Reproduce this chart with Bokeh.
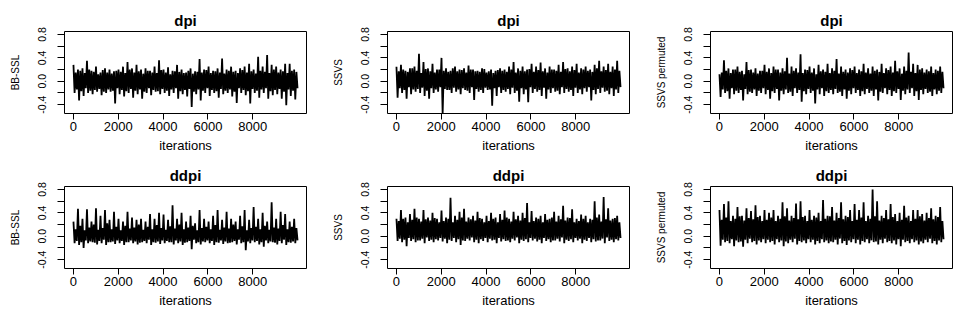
import numpy as np
from bokeh.plotting import figure
from bokeh.layouts import column, row
from bokeh.models import FixedTicker, Range1d
from bokeh.embed import file_html
from bokeh.resources import INLINE

# ---------------- data ----------------
titles = ["dpi", "dpi", "dpi", "ddpi", "ddpi", "ddpi"]
ylabels = ["BB-SSL", "SSVS", "SSVS permuted", "BB-SSL", "SSVS", "SSVS permuted"]
xlabel = "iterations"
x_ticks = [0, 2000, 4000, 6000, 8000]
y_ticks = [-0.4, -0.2, 0.0, 0.2, 0.4, 0.6, 0.8]
y_tick_text = ["-0.4", "", "0.0", "", "0.4", "", "0.8"]
n_iter = 10000

# high / low extremes of each trace, one pair per stretch of 100 iterations
dpi_bbssl_hi = [0.28, 0.15, 0.20, 0.18, 0.22, 0.14, 0.35, 0.20, 0.18, 0.16,
                0.25, 0.12, 0.15, 0.19, 0.22, 0.15, 0.20, 0.13, 0.17, 0.18,
                0.20, 0.16, 0.25, 0.14, 0.33, 0.20, 0.22, 0.15, 0.28, 0.17,
                0.20, 0.13, 0.22, 0.18, 0.18, 0.15, 0.25, 0.14, 0.36, 0.19,
                0.20, 0.15, 0.24, 0.12, 0.18, 0.17, 0.28, 0.16, 0.20, 0.14,
                0.15, 0.18, 0.22, 0.13, 0.17, 0.16, 0.38, 0.15, 0.20, 0.19,
                0.25, 0.14, 0.18, 0.17, 0.22, 0.15, 0.39, 0.13, 0.20, 0.18,
                0.25, 0.16, 0.18, 0.14, 0.22, 0.19, 0.25, 0.15, 0.30, 0.17,
                0.20, 0.13, 0.42, 0.18, 0.25, 0.16, 0.45, 0.14, 0.28, 0.20,
                0.25, 0.15, 0.20, 0.17, 0.30, 0.14, 0.30, 0.18, 0.20, 0.16]
dpi_bbssl_lo = [-0.20, -0.14, -0.33, -0.17, -0.25, -0.12, -0.20, -0.16, -0.22, -0.15,
                -0.18, -0.13, -0.24, -0.18, -0.20, -0.14, -0.18, -0.16, -0.38, -0.12,
                -0.22, -0.15, -0.26, -0.17, -0.20, -0.13, -0.28, -0.16, -0.22, -0.14,
                -0.30, -0.18, -0.20, -0.12, -0.24, -0.15, -0.18, -0.17, -0.22, -0.13,
                -0.20, -0.16, -0.25, -0.14, -0.20, -0.12, -0.30, -0.17, -0.22, -0.15,
                -0.26, -0.13, -0.44, -0.18, -0.22, -0.14, -0.33, -0.16, -0.20, -0.12,
                -0.25, -0.15, -0.20, -0.17, -0.28, -0.13, -0.22, -0.16, -0.20, -0.14,
                -0.26, -0.18, -0.37, -0.12, -0.20, -0.15, -0.24, -0.17, -0.38, -0.13,
                -0.20, -0.16, -0.28, -0.14, -0.20, -0.12, -0.30, -0.17, -0.24, -0.15,
                -0.22, -0.13, -0.30, -0.18, -0.41, -0.14, -0.25, -0.16, -0.31, -0.12]

dpi_ssvs_hi = [0.25, 0.17, 0.28, 0.20, 0.18, 0.16, 0.22, 0.22, 0.25, 0.18,
               0.47, 0.14, 0.33, 0.21, 0.22, 0.17, 0.30, 0.15, 0.20, 0.20,
               0.40, 0.18, 0.22, 0.16, 0.18, 0.22, 0.25, 0.17, 0.20, 0.19,
               0.22, 0.15, 0.27, 0.20, 0.20, 0.17, 0.18, 0.16, 0.22, 0.21,
               0.15, 0.17, 0.20, 0.14, 0.18, 0.19, 0.22, 0.18, 0.20, 0.16,
               0.25, 0.20, 0.33, 0.15, 0.22, 0.18, 0.25, 0.17, 0.20, 0.21,
               0.30, 0.16, 0.25, 0.19, 0.32, 0.17, 0.22, 0.15, 0.25, 0.20,
               0.20, 0.18, 0.28, 0.16, 0.33, 0.21, 0.22, 0.17, 0.25, 0.19,
               0.30, 0.15, 0.22, 0.20, 0.25, 0.18, 0.20, 0.16, 0.28, 0.22,
               0.35, 0.17, 0.25, 0.19, 0.30, 0.16, 0.25, 0.20, 0.35, 0.18]
dpi_ssvs_lo = [-0.28, -0.12, -0.20, -0.15, -0.30, -0.10, -0.22, -0.14, -0.18, -0.13,
               -0.20, -0.11, -0.25, -0.16, -0.30, -0.12, -0.20, -0.14, -0.18, -0.10,
               -0.56, -0.13, -0.15, -0.15, -0.20, -0.11, -0.18, -0.14, -0.22, -0.12,
               -0.15, -0.16, -0.20, -0.10, -0.32, -0.13, -0.18, -0.15, -0.20, -0.11,
               -0.15, -0.14, -0.42, -0.12, -0.25, -0.10, -0.20, -0.15, -0.18, -0.13,
               -0.22, -0.11, -0.20, -0.16, -0.35, -0.12, -0.22, -0.14, -0.36, -0.10,
               -0.20, -0.13, -0.18, -0.15, -0.25, -0.11, -0.30, -0.14, -0.20, -0.12,
               -0.18, -0.16, -0.22, -0.10, -0.20, -0.13, -0.18, -0.15, -0.25, -0.11,
               -0.20, -0.14, -0.22, -0.12, -0.18, -0.10, -0.33, -0.15, -0.22, -0.13,
               -0.20, -0.11, -0.18, -0.16, -0.22, -0.12, -0.25, -0.14, -0.20, -0.10]

dpi_perm_hi = [0.12, 0.15, 0.36, 0.18, 0.22, 0.14, 0.20, 0.20, 0.25, 0.16,
               0.18, 0.12, 0.33, 0.19, 0.20, 0.15, 0.22, 0.13, 0.18, 0.18,
               0.28, 0.16, 0.22, 0.14, 0.25, 0.20, 0.20, 0.15, 0.22, 0.17,
               0.40, 0.13, 0.25, 0.18, 0.22, 0.15, 0.46, 0.14, 0.20, 0.19,
               0.25, 0.15, 0.22, 0.12, 0.28, 0.17, 0.20, 0.16, 0.30, 0.14,
               0.22, 0.18, 0.38, 0.13, 0.25, 0.16, 0.20, 0.15, 0.22, 0.19,
               0.25, 0.14, 0.20, 0.17, 0.30, 0.15, 0.22, 0.13, 0.25, 0.18,
               0.20, 0.16, 0.30, 0.14, 0.22, 0.19, 0.25, 0.15, 0.35, 0.17,
               0.22, 0.13, 0.25, 0.18, 0.49, 0.16, 0.30, 0.14, 0.28, 0.20,
               0.22, 0.15, 0.20, 0.17, 0.25, 0.14, 0.20, 0.18, 0.25, 0.16]
dpi_perm_lo = [-0.27, -0.14, -0.20, -0.17, -0.30, -0.12, -0.22, -0.16, -0.20, -0.15,
               -0.33, -0.13, -0.22, -0.18, -0.20, -0.14, -0.25, -0.16, -0.20, -0.12,
               -0.22, -0.15, -0.30, -0.17, -0.20, -0.13, -0.33, -0.16, -0.22, -0.14,
               -0.20, -0.18, -0.25, -0.12, -0.20, -0.15, -0.35, -0.17, -0.22, -0.13,
               -0.20, -0.16, -0.38, -0.14, -0.22, -0.12, -0.25, -0.17, -0.20, -0.15,
               -0.22, -0.13, -0.20, -0.18, -0.25, -0.14, -0.30, -0.16, -0.22, -0.12,
               -0.20, -0.15, -0.25, -0.17, -0.22, -0.13, -0.20, -0.16, -0.25, -0.14,
               -0.33, -0.18, -0.20, -0.12, -0.22, -0.15, -0.25, -0.17, -0.20, -0.13,
               -0.32, -0.16, -0.22, -0.14, -0.20, -0.12, -0.25, -0.17, -0.32, -0.15,
               -0.22, -0.13, -0.20, -0.18, -0.25, -0.14, -0.22, -0.16, -0.20, -0.12]

ddpi_bbssl_hi = [0.25, 0.12, 0.47, 0.18, 0.30, 0.10, 0.46, 0.15, 0.25, 0.20,
                 0.48, 0.11, 0.35, 0.14, 0.45, 0.22, 0.28, 0.12, 0.42, 0.16,
                 0.30, 0.10, 0.25, 0.18, 0.42, 0.13, 0.32, 0.15, 0.28, 0.20,
                 0.30, 0.11, 0.25, 0.16, 0.38, 0.12, 0.30, 0.19, 0.40, 0.14,
                 0.37, 0.11, 0.28, 0.17, 0.53, 0.13, 0.30, 0.20, 0.40, 0.12,
                 0.25, 0.15, 0.35, 0.18, 0.22, 0.10, 0.45, 0.14, 0.30, 0.16,
                 0.25, 0.12, 0.35, 0.19, 0.45, 0.11, 0.28, 0.15, 0.42, 0.13,
                 0.30, 0.20, 0.25, 0.12, 0.35, 0.17, 0.45, 0.10, 0.28, 0.14,
                 0.50, 0.16, 0.30, 0.12, 0.40, 0.18, 0.25, 0.11, 0.58, 0.15,
                 0.30, 0.13, 0.42, 0.19, 0.38, 0.12, 0.25, 0.16, 0.30, 0.14]
ddpi_bbssl_lo = [-0.12, -0.08, -0.15, -0.10, -0.20, -0.07, -0.12, -0.09, -0.10, -0.11,
                 -0.14, -0.08, -0.12, -0.06, -0.15, -0.10, -0.10, -0.09, -0.13, -0.07,
                 -0.12, -0.08, -0.15, -0.10, -0.10, -0.07, -0.12, -0.09, -0.14, -0.11,
                 -0.10, -0.08, -0.12, -0.06, -0.15, -0.10, -0.11, -0.09, -0.13, -0.07,
                 -0.12, -0.08, -0.10, -0.10, -0.14, -0.07, -0.12, -0.09, -0.15, -0.11,
                 -0.10, -0.08, -0.22, -0.06, -0.12, -0.10, -0.14, -0.09, -0.10, -0.07,
                 -0.12, -0.08, -0.15, -0.10, -0.11, -0.07, -0.13, -0.09, -0.12, -0.11,
                 -0.10, -0.08, -0.14, -0.06, -0.12, -0.10, -0.24, -0.09, -0.12, -0.07,
                 -0.10, -0.08, -0.14, -0.10, -0.18, -0.07, -0.12, -0.09, -0.10, -0.11,
                 -0.14, -0.08, -0.12, -0.06, -0.15, -0.10, -0.11, -0.09, -0.12, -0.07]

ddpi_ssvs_hi = [0.30, 0.26, 0.45, 0.30, 0.32, 0.24, 0.38, 0.28, 0.47, 0.32,
                0.30, 0.25, 0.45, 0.29, 0.32, 0.27, 0.40, 0.31, 0.30, 0.24,
                0.44, 0.26, 0.32, 0.30, 0.66, 0.24, 0.35, 0.28, 0.42, 0.32,
                0.47, 0.25, 0.32, 0.29, 0.35, 0.27, 0.42, 0.31, 0.30, 0.24,
                0.35, 0.26, 0.40, 0.30, 0.32, 0.24, 0.38, 0.28, 0.44, 0.32,
                0.30, 0.25, 0.42, 0.29, 0.35, 0.27, 0.40, 0.31, 0.57, 0.24,
                0.43, 0.26, 0.32, 0.30, 0.35, 0.24, 0.38, 0.28, 0.30, 0.32,
                0.42, 0.25, 0.35, 0.29, 0.52, 0.27, 0.32, 0.31, 0.46, 0.24,
                0.30, 0.26, 0.37, 0.30, 0.35, 0.24, 0.30, 0.28, 0.60, 0.32,
                0.37, 0.25, 0.67, 0.29, 0.48, 0.27, 0.30, 0.31, 0.35, 0.24]
ddpi_ssvs_lo = [-0.08, -0.04, -0.10, -0.06, -0.17, -0.03, -0.08, -0.05, -0.10, -0.07,
                -0.07, -0.04, -0.12, -0.02, -0.08, -0.06, -0.10, -0.05, -0.07, -0.03,
                -0.09, -0.04, -0.12, -0.06, -0.08, -0.03, -0.10, -0.05, -0.15, -0.07,
                -0.08, -0.04, -0.07, -0.02, -0.10, -0.06, -0.12, -0.05, -0.08, -0.03,
                -0.10, -0.04, -0.07, -0.06, -0.12, -0.03, -0.09, -0.05, -0.08, -0.07,
                -0.10, -0.04, -0.07, -0.02, -0.12, -0.06, -0.08, -0.05, -0.10, -0.03,
                -0.07, -0.04, -0.09, -0.06, -0.12, -0.03, -0.08, -0.05, -0.10, -0.07,
                -0.07, -0.04, -0.09, -0.02, -0.12, -0.06, -0.08, -0.05, -0.10, -0.03,
                -0.07, -0.04, -0.12, -0.06, -0.08, -0.03, -0.10, -0.05, -0.09, -0.07,
                -0.07, -0.04, -0.12, -0.02, -0.08, -0.06, -0.10, -0.05, -0.07, -0.03]

ddpi_perm_hi = [0.45, 0.28, 0.55, 0.32, 0.60, 0.26, 0.35, 0.30, 0.50, 0.34,
                0.35, 0.27, 0.48, 0.31, 0.43, 0.29, 0.53, 0.33, 0.35, 0.26,
                0.45, 0.28, 0.40, 0.32, 0.45, 0.26, 0.35, 0.30, 0.58, 0.34,
                0.48, 0.27, 0.35, 0.31, 0.56, 0.29, 0.60, 0.33, 0.35, 0.26,
                0.45, 0.28, 0.35, 0.32, 0.40, 0.26, 0.62, 0.30, 0.35, 0.34,
                0.50, 0.27, 0.40, 0.31, 0.58, 0.29, 0.35, 0.33, 0.45, 0.26,
                0.55, 0.28, 0.45, 0.32, 0.58, 0.26, 0.35, 0.30, 0.80, 0.34,
                0.60, 0.27, 0.35, 0.31, 0.45, 0.29, 0.55, 0.33, 0.38, 0.26,
                0.40, 0.28, 0.52, 0.32, 0.35, 0.26, 0.45, 0.30, 0.45, 0.34,
                0.38, 0.27, 0.40, 0.31, 0.48, 0.29, 0.35, 0.33, 0.50, 0.26]
ddpi_perm_lo = [-0.16, -0.06, -0.10, -0.08, -0.12, -0.05, -0.17, -0.07, -0.10, -0.09,
                -0.18, -0.06, -0.12, -0.04, -0.10, -0.08, -0.14, -0.07, -0.10, -0.05,
                -0.12, -0.06, -0.10, -0.08, -0.14, -0.05, -0.10, -0.07, -0.17, -0.09,
                -0.12, -0.06, -0.10, -0.04, -0.14, -0.08, -0.10, -0.07, -0.12, -0.05,
                -0.10, -0.06, -0.14, -0.08, -0.12, -0.05, -0.10, -0.07, -0.12, -0.09,
                -0.10, -0.06, -0.14, -0.04, -0.12, -0.08, -0.15, -0.07, -0.10, -0.05,
                -0.12, -0.06, -0.14, -0.08, -0.10, -0.05, -0.12, -0.07, -0.10, -0.09,
                -0.14, -0.06, -0.12, -0.04, -0.10, -0.08, -0.12, -0.07, -0.14, -0.05,
                -0.17, -0.06, -0.10, -0.08, -0.12, -0.05, -0.10, -0.07, -0.14, -0.09,
                -0.12, -0.06, -0.10, -0.04, -0.12, -0.08, -0.14, -0.07, -0.10, -0.05]

traces = [(dpi_bbssl_hi, dpi_bbssl_lo), (dpi_ssvs_hi, dpi_ssvs_lo), (dpi_perm_hi, dpi_perm_lo),
          (ddpi_bbssl_hi, ddpi_bbssl_lo), (ddpi_ssvs_hi, ddpi_ssvs_lo), (ddpi_perm_hi, ddpi_perm_lo)]

# ---------------- layout / style ----------------
FONT = "Liberation Sans"
PANEL_W, PANEL_H = 323, 155
LEFT, RIGHT, TOP, BOTTOM = 64, 17, 31, 42


def make_panel(i):
    hi, lo = traces[i]
    n = min(len(hi), len(lo))
    y = np.empty(2 * n)
    y[0::2] = hi[:n]
    y[1::2] = lo[:n]
    x = np.linspace(1, n_iter, len(y))

    p = figure(width=PANEL_W, height=PANEL_H, output_backend="svg", toolbar_location=None,
               x_range=Range1d(-399, 10400), y_range=Range1d(-0.552, 0.852),
               min_border_left=LEFT, min_border_right=RIGHT,
               min_border_top=TOP, min_border_bottom=BOTTOM,
               title=titles[i])
    p.line(x, y, line_color="black", line_width=1.8, line_join="miter")

    p.background_fill_color = "white"
    p.border_fill_color = "white"
    p.outline_line_color = "black"
    p.outline_line_width = 1
    p.outline_line_alpha = 1
    p.grid.visible = False

    p.title.align = "center"
    p.title.text_font = FONT
    p.title.text_font_size = "15px"
    p.title.text_font_style = "bold"
    p.title.text_color = "black"
    p.title.standoff = 5

    for ax in (p.xaxis[0], p.yaxis[0]):
        ax.axis_line_color = None
        ax.major_tick_in = 0
        ax.minor_tick_in = 0
        ax.minor_tick_out = 0
        ax.major_tick_line_color = "black"
        ax.major_label_text_font = FONT
        ax.major_label_text_color = "black"
        ax.axis_label_text_font = FONT
        ax.axis_label_text_font_style = "normal"
        ax.axis_label_text_color = "black"

    xa = p.xaxis[0]
    xa.ticker = FixedTicker(ticks=x_ticks)
    xa.major_tick_out = 6
    xa.major_label_text_font_size = "13px"
    xa.major_label_standoff = 2
    xa.axis_label = xlabel
    xa.axis_label_text_font_size = "13px"
    xa.axis_label_standoff = 4

    ya = p.yaxis[0]
    ya.ticker = FixedTicker(ticks=y_ticks)
    ya.major_label_overrides = {t: s for t, s in zip(y_ticks, y_tick_text)}
    ya.major_tick_out = 7
    ya.major_label_orientation = "vertical"
    ya.major_label_text_font_size = "10.5px"
    ya.major_label_standoff = 11
    ya.axis_label = ylabels[i]
    ya.axis_label_text_font_size = "10px"
    ya.axis_label_standoff = 15
    return p


panels = [make_panel(i) for i in range(6)]
layout = column(row(*panels[:3]), row(*panels[3:]))

open("out.html", "w").write(file_html(layout, INLINE))
